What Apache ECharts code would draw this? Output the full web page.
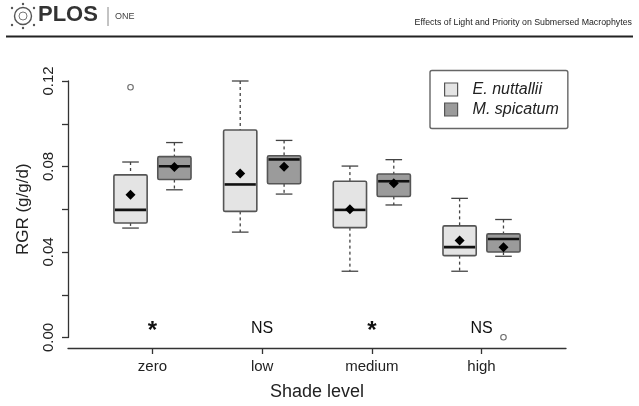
<!DOCTYPE html>
<html>
<head>
<meta charset="utf-8">
<script src="https://cdn.jsdelivr.net/npm/echarts@6/dist/echarts.min.js"></script>
<style>
html, body { margin: 0; padding: 0; background: #ffffff; }
#chart { width: 639px; height: 406px; }
</style>
</head>
<body>
<div id="chart"></div>
<script>
// Shade treatments along the x axis
const shadeLevels = ['zero', 'low', 'medium', 'high'];
const speciesNames = ['E. nuttallii', 'M. spicatum'];

// Box statistics per shade level: [lower whisker, Q1, median, Q3, upper whisker]
const nuttalliiBox = [
  [0.0512, 0.0536, 0.0597, 0.0761, 0.0821],
  [0.0493, 0.0590, 0.0716, 0.0971, 0.1200],
  [0.0310, 0.0514, 0.0597, 0.0731, 0.0802],
  [0.0310, 0.0383, 0.0423, 0.0522, 0.0651]
];
const spicatumBox = [
  [0.0691, 0.0739, 0.0801, 0.0846, 0.0912],
  [0.0671, 0.0719, 0.0833, 0.0850, 0.0922],
  [0.0620, 0.0660, 0.0731, 0.0765, 0.0832],
  [0.0380, 0.0400, 0.0461, 0.0485, 0.0552]
];

// Group means (diamonds)
const nuttalliiMean = [0.0668, 0.0767, 0.0600, 0.0454];
const spicatumMean = [0.0798, 0.0799, 0.0722, 0.0422];

// Outliers: [shade level index, RGR]
const nuttalliiOutliers = [[0, 0.1171]];
const spicatumOutliers = [[3, 0.0001]];

// Between-species test result per shade level
const significance = ['*', 'NS', '*', 'NS'];
const significanceY = 0.0044;

// Axis ticks
const yTickValues = [0, 0.02, 0.04, 0.06, 0.08, 0.10, 0.12];
const yLabelValues = [0, 0.04, 0.08, 0.12];
const yLabelText = ['0.00', '0.04', '0.08', '0.12'];

const OFFSET = 0.2;     // horizontal shift of each species' box from the level centre
const BOX_W = 0.303;    // box width in x-axis units
const fillColors = ['#e4e4e4', '#9b9b9b'];
const strokeColor = '#555555';

function rows(stats, means) {
  return stats.map((s, i) => [i].concat(s, [means[i]]));
}

function boxRenderer(offset, fill) {
  return function (params, api) {
    const x = api.value(0) + offset;
    const lo = api.coord([x, api.value(1)]);
    const q1 = api.coord([x, api.value(2)]);
    const med = api.coord([x, api.value(3)]);
    const q3 = api.coord([x, api.value(4)]);
    const hi = api.coord([x, api.value(5)]);
    const mean = api.coord([x, api.value(6)]);
    const w = api.size([BOX_W, 0])[0];
    const cx = lo[0];
    const dashed = { stroke: '#444', lineWidth: 1.3, lineDash: [3, 3] };
    const solid = { stroke: '#444', lineWidth: 1.3 };
    const d = 5;
    return {
      type: 'group',
      children: [
        { type: 'line', shape: { x1: cx, y1: hi[1], x2: cx, y2: q3[1] }, style: dashed },
        { type: 'line', shape: { x1: cx, y1: q1[1], x2: cx, y2: lo[1] }, style: dashed },
        { type: 'line', shape: { x1: cx - w / 4, y1: hi[1], x2: cx + w / 4, y2: hi[1] }, style: solid },
        { type: 'line', shape: { x1: cx - w / 4, y1: lo[1], x2: cx + w / 4, y2: lo[1] }, style: solid },
        { type: 'rect', shape: { x: cx - w / 2, y: q3[1], width: w, height: q1[1] - q3[1], r: 1.5 },
          style: { fill: fill, stroke: strokeColor, lineWidth: 1.6 } },
        { type: 'line', shape: { x1: cx - w / 2 + 1, y1: med[1], x2: cx + w / 2 - 1, y2: med[1] },
          style: { stroke: '#111', lineWidth: 2.6 } },
        { type: 'polygon', shape: { points: [[cx, mean[1] - d], [cx + d, mean[1]], [cx, mean[1] + d], [cx - d, mean[1]]] },
          style: { fill: '#000' } }
      ]
    };
  };
}

const chart = echarts.init(document.getElementById('chart'), null, { renderer: 'canvas' });

const option = {
  backgroundColor: '#ffffff',
  animation: false,
  textStyle: { fontFamily: 'Liberation Sans, Arial, sans-serif' },
  graphic: [
    // journal header
    { type: 'circle', shape: { cx: 23, cy: 16, r: 8.5 }, style: { fill: 'none', stroke: '#555', lineWidth: 1.4 } },
    { type: 'circle', shape: { cx: 23, cy: 16, r: 4 }, style: { fill: 'none', stroke: '#777', lineWidth: 1 } },
    { type: 'circle', shape: { cx: 12, cy: 8, r: 1.2 }, style: { fill: '#555' } },
    { type: 'circle', shape: { cx: 34, cy: 8, r: 1.2 }, style: { fill: '#555' } },
    { type: 'circle', shape: { cx: 12, cy: 25, r: 1.2 }, style: { fill: '#555' } },
    { type: 'circle', shape: { cx: 34, cy: 25, r: 1.2 }, style: { fill: '#555' } },
    { type: 'circle', shape: { cx: 23, cy: 4, r: 1.2 }, style: { fill: '#555' } },
    { type: 'circle', shape: { cx: 23, cy: 28, r: 1.2 }, style: { fill: '#555' } },
    { type: 'text', left: 38, top: 4,
      style: { text: 'PLOS', fill: '#333', font: 'bold 22px "Liberation Sans", Arial, sans-serif' } },
    { type: 'line', shape: { x1: 108, y1: 7, x2: 108, y2: 26 }, style: { stroke: '#888', lineWidth: 1 } },
    { type: 'text', left: 115, top: 12,
      style: { text: 'ONE', fill: '#444', font: '9px "Liberation Sans", Arial, sans-serif' } },
    { type: 'text', right: 7, top: 18,
      style: { text: 'Effects of Light and Priority on Submersed Macrophytes', fill: '#222',
               font: '8.8px "Liberation Sans", Arial, sans-serif' } },
    { type: 'line', shape: { x1: 6, y1: 36.5, x2: 633, y2: 36.5 }, style: { stroke: '#222', lineWidth: 2.2 } }
  ],
  legend: {
    left: 430,
    top: 70.5,
    orient: 'vertical',
    padding: [11, 9, 11, 14],
    itemGap: 4,
    itemWidth: 13,
    itemHeight: 13,
    borderColor: '#666',
    borderWidth: 1.4,
    borderRadius: 2,
    icon: 'rect',
    textStyle: { fontSize: 16, fontStyle: 'italic', color: '#222', lineHeight: 16, padding: [0, 0, 0, 10],
                 fontFamily: 'Liberation Sans, Arial, sans-serif' },
    data: [
      { name: speciesNames[0], itemStyle: { color: fillColors[0], borderColor: strokeColor, borderWidth: 1.2 } },
      { name: speciesNames[1], itemStyle: { color: fillColors[1], borderColor: strokeColor, borderWidth: 1.2 } }
    ]
  },
  grid: { left: 68, right: 73, top: 81, bottom: 66.5, containLabel: false },
  xAxis: {
    type: 'value',
    min: -0.77,
    max: 3.77,
    offset: 10.5,
    splitLine: { show: false },
    axisLine: { show: true, onZero: false, lineStyle: { color: '#333', width: 1.3 } },
    axisTick: { show: true, length: 6, customValues: [0, 1, 2, 3], lineStyle: { color: '#333', width: 1.3 } },
    axisLabel: {
      customValues: [0, 1, 2, 3],
      formatter: v => shadeLevels[Math.round(v)],
      fontSize: 15, color: '#222', margin: 11
    },
    name: 'Shade level',
    nameLocation: 'middle',
    nameGap: 35,
    nameTextStyle: { fontSize: 18, color: '#222' }
  },
  yAxis: {
    type: 'value',
    min: 0,
    max: 0.12,
    splitLine: { show: false },
    axisLine: { show: true, onZero: false, lineStyle: { color: '#333', width: 1.3 } },
    axisTick: { show: true, length: 6, customValues: yTickValues, lineStyle: { color: '#333', width: 1.3 } },
    axisLabel: {
      customValues: yLabelValues,
      formatter: v => yLabelText[yLabelValues.findIndex(t => Math.abs(t - v) < 1e-9)],
      rotate: 90, fontSize: 15, color: '#222', margin: 12
    },
    name: 'RGR (g/g/d)',
    nameLocation: 'middle',
    nameGap: 36,
    nameTextStyle: { fontSize: 17, color: '#222' }
  },
  series: [
    {
      name: speciesNames[0],
      type: 'custom',
      renderItem: boxRenderer(-OFFSET, fillColors[0]),
      itemStyle: { color: fillColors[0], borderColor: strokeColor },
      encode: { x: 0, y: [1, 2, 3, 4, 5, 6] },
      data: rows(nuttalliiBox, nuttalliiMean),
      z: 3
    },
    {
      name: speciesNames[1],
      type: 'custom',
      renderItem: boxRenderer(OFFSET, fillColors[1]),
      itemStyle: { color: fillColors[1], borderColor: strokeColor },
      encode: { x: 0, y: [1, 2, 3, 4, 5, 6] },
      data: rows(spicatumBox, spicatumMean),
      z: 3
    },
    {
      name: 'outliers',
      type: 'scatter',
      symbol: 'circle',
      symbolSize: 5.5,
      itemStyle: { color: '#fff', borderColor: '#444', borderWidth: 1.1 },
      data: nuttalliiOutliers.map(p => [p[0] - OFFSET, p[1]])
        .concat(spicatumOutliers.map(p => [p[0] + OFFSET, p[1]])),
      z: 4
    },
    {
      name: 'significance',
      type: 'custom',
      data: significance.map((s, i) => [i, significanceY]),
      renderItem: function (params, api) {
        const p = api.coord([api.value(0), api.value(1)]);
        const s = significance[params.dataIndex];
        const star = s === '*';
        return {
          type: 'text',
          x: p[0],
          y: star ? p[1] + 3 : p[1],
          style: {
            text: s,
            align: 'center',
            verticalAlign: 'middle',
            fill: '#111',
            font: star ? 'bold 24px "Liberation Sans", Arial, sans-serif'
                       : '16px "Liberation Sans", Arial, sans-serif'
          }
        };
      },
      z: 4
    }
  ]
};

chart.setOption(option);
</script>
</body>
</html>
